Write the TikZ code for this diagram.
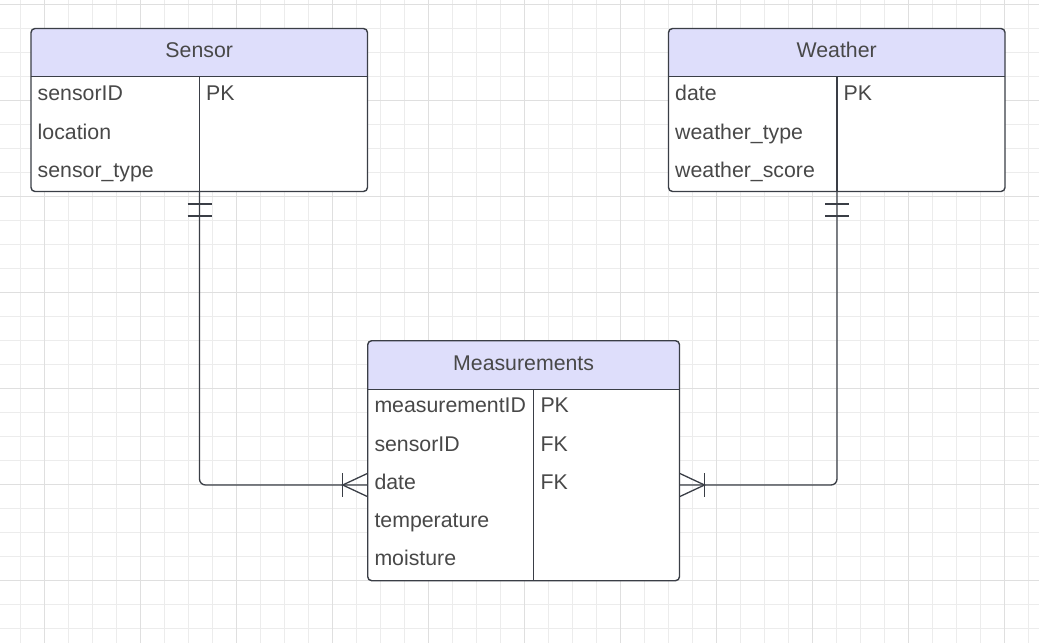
\documentclass[tikz,border=0pt]{standalone}
\usepackage{fontspec}
\setmainfont{Liberation Sans}
\usetikzlibrary{fit,calc}
\definecolor{gridminor}{RGB}{236,236,236}
\definecolor{gridmajor}{RGB}{223,223,223}
\definecolor{edge}{RGB}{58,62,70}
\definecolor{hdr}{RGB}{222,222,251}
\definecolor{txt}{RGB}{72,72,72}
\tikzset{
  minorline/.style={gridminor, line width=0.9pt},
  majorline/.style={gridmajor, line width=0.9pt},
  tbl/.style={draw=edge, line width=1.4pt, rounded corners=4pt, inner sep=0pt, outer sep=0pt},
  inner/.style={draw=edge, line width=1.4pt},
  conn/.style={draw=edge, line width=1.3pt},
  title/.style={anchor=base, text=txt, font=\fontsize{21.3}{25}\selectfont, inner sep=0pt},
  field/.style={anchor=base west, text=txt, font=\fontsize{21.3}{25}\selectfont, inner sep=0pt},
}
\begin{document}
\begin{tikzpicture}[x=1pt,y=-1pt]
\fill[white] (0,0) rectangle (1039,643);
\useasboundingbox (0,0) rectangle (1039,643);
% grid
\foreach \i in {0,...,42} {\draw[minorline] ({20.7+24*\i},0) -- ++(0,643);}
\foreach \j in {0,...,26} {\draw[minorline] (0,{4+24*\j}) -- ++(1039,0);}
\foreach \i in {0,...,10} {\draw[majorline] ({44.7+96*\i},0) -- ++(0,643);}
\foreach \j in {0,...,6} {\draw[majorline] (0,{4+96*\j}) -- ++(1039,0);}

% ---------- Sensor ----------
\coordinate (sNW) at (31,28.5);
\coordinate (sSE) at (367.5,191.5);
\begin{scope}
\clip[rounded corners=4pt] (sNW) rectangle (sSE);
\fill[white] (sNW) rectangle (sSE);
\fill[hdr] (sNW) rectangle (367.5,76.5);
\end{scope}
\node[tbl, fit=(sNW)(sSE)] (sensor) {};
\draw[inner] (31,76.5) -- (367.5,76.5);
\coordinate (sDivTop) at (199.5,76.5);
\coordinate (sDiv) at (199.5,191.5);
\draw[inner] (sDivTop) -- (sDiv);
\node[title] (sT) at (199.2,57.5) {Sensor};
\node[field] (s1) at (37.5,100.7) {sensorID};
\node[field] (s1k) at (206,100.7) {PK};
\node[field] (s2) at (37.5,139.1) {location};
\node[field] (s3) at (37.5,177.5) {sensor\_type};

% ---------- Weather ----------
\coordinate (wNW) at (668.5,28.5);
\coordinate (wSE) at (1005,191.5);
\begin{scope}
\clip[rounded corners=4pt] (wNW) rectangle (wSE);
\fill[white] (wNW) rectangle (wSE);
\fill[hdr] (wNW) rectangle (1005,76.5);
\end{scope}
\node[tbl, fit=(wNW)(wSE)] (weather) {};
\draw[inner] (668.5,76.5) -- (1005,76.5);
\coordinate (wDivTop) at (837,76.5);
\coordinate (wDiv) at (837,191.5);
\draw[inner] (wDivTop) -- (wDiv);
\node[title] (wT) at (836.7,57.5) {Weather};
\node[field] (w1) at (675,100.7) {date};
\node[field] (w1k) at (843.5,100.7) {PK};
\node[field] (w2) at (675,139.1) {weather\_type};
\node[field] (w3) at (675,177.5) {weather\_score};

% ---------- Measurements ----------
\coordinate (mNW) at (367.7,340.7);
\coordinate (mSE) at (679.5,580.7);
\begin{scope}
\clip[rounded corners=4pt] (mNW) rectangle (mSE);
\fill[white] (mNW) rectangle (mSE);
\fill[hdr] (mNW) rectangle (679.5,389.3);
\end{scope}
\node[tbl, fit=(mNW)(mSE)] (meas) {};
\draw[inner] (367.7,389.3) -- (679.5,389.3);
\draw[inner] (533.7,389.3) -- (533.7,580.7);
\node[title] (mT) at (523.6,370) {Measurements};
\node[field] (m1) at (374.3,412.7) {measurementID};
\node[field] (m1k) at (540.3,412.7) {PK};
\node[field] (m2) at (374.3,451) {sensorID};
\node[field] (m2k) at (540.3,451) {FK};
\node[field] (m3) at (374.3,489.3) {date};
\node[field] (m3k) at (540.3,489.3) {FK};
\node[field] (m4) at (374.3,527.6) {temperature};
\node[field] (m5) at (374.3,565.9) {moisture};

\coordinate (mDateW) at (367.7,485);
\coordinate (mDateE) at (679.5,485);

% ---------- connectors ----------
\draw[conn, rounded corners=6pt] (sDiv) |- (mDateW);
\draw[conn, rounded corners=6pt] (wDiv) |- (mDateE);

% one-and-only-one marks
\draw[conn] ($(sDiv)+(-12,12.5)$) -- ++(24,0);
\draw[conn] ($(sDiv)+(-12,24.5)$) -- ++(24,0);
\draw[conn] ($(wDiv)+(-12,12.5)$) -- ++(24,0);
\draw[conn] ($(wDiv)+(-12,24.5)$) -- ++(24,0);

% crow's feet (one-or-many)
\draw[conn] ($(mDateW)+(-25,-11.7)$) -- ++(0,23.4);
\draw[conn] ($(mDateW)+(0,-11.7)$) -- ($(mDateW)+(-25,0)$) -- ($(mDateW)+(0,11.7)$);
\draw[conn] ($(mDateE)+(25,-11.7)$) -- ++(0,23.4);
\draw[conn] ($(mDateE)+(0,-11.7)$) -- ($(mDateE)+(25,0)$) -- ($(mDateE)+(0,11.7)$);
\end{tikzpicture}
\end{document}
